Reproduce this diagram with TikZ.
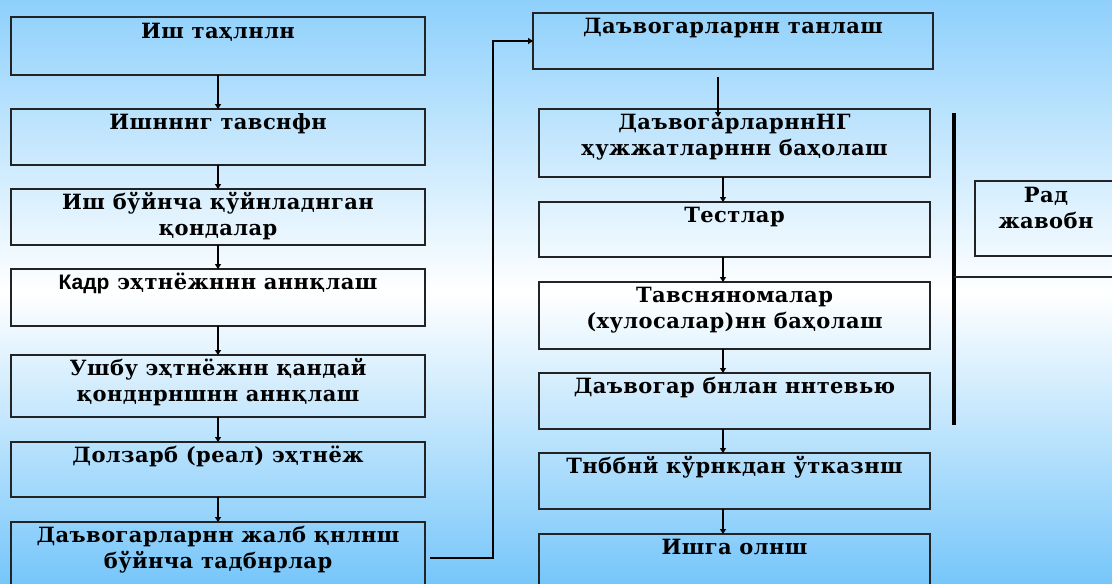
\documentclass[tikz,border=0pt]{standalone}
\usepackage{fontspec}
\setmainfont{DejaVu Serif}
\newfontfamily\sansf{Liberation Sans}
\usetikzlibrary{arrows.meta}
\definecolor{bgtop}{RGB}{142,208,252}
\definecolor{bgbot}{RGB}{118,198,250}
\definecolor{edge}{RGB}{35,35,35}
\newcommand{\st}{\rule{0pt}{20pt}}
\begin{document}
\begin{tikzpicture}[x=1pt,y=-1pt,
  box/.style={draw=edge, line width=1.6pt, inner sep=0pt, outer sep=0pt, anchor=north west},
  lbl/.style={font=\fontsize{21}{26}\selectfont\bfseries\addfontfeature{LetterSpace=2}, align=center, anchor=north, inner sep=0pt},
  arr/.style={draw=black, line width=1.3pt, -{Triangle[length=5pt,width=6pt]}},
  thick bar/.style={draw=black, line width=3.5pt},
  thin bar/.style={draw=edge, line width=1.3pt}]
\useasboundingbox (0,0) rectangle (1112,584);
\clip (0,0) rectangle (1112,584);
\shade[top color=bgtop, bottom color=bgbot, middle color=white] (0,0) rectangle (1112,584);
% left column
\node[box, minimum width=414pt, minimum height=58pt] (b1) at (11,17) {};
\node[box, minimum width=414pt, minimum height=56pt] (b2) at (11,109) {};
\node[box, minimum width=414pt, minimum height=56pt] (b3) at (11,189) {};
\node[box, minimum width=414pt, minimum height=57pt] (b4) at (11,269) {};
\node[box, minimum width=414pt, minimum height=62pt] (b5) at (11,355) {};
\node[box, minimum width=414pt, minimum height=55pt] (b6) at (11,442) {};
\node[box, minimum width=414pt, minimum height=72pt] (b7) at (11,522) {};
\node[lbl, yshift=-1pt] (t1) at (b1.north) {\st Иш таҳлнлн};
\node[lbl] (t2) at (b2.north) {\st Ишнннг тавснфн};
\node[lbl] (t3) at (b3.north) {\st Иш бўйнча қўйнладнган\\қондалар};
\node[lbl] (t4) at (b4.north) {\st{\sansf Кадр} эҳтнёжннн аннқлаш};
\node[lbl] (t5) at (b5.north) {\st Ушбу эҳтнёжнн қандай\\қонднрншнн аннқлаш};
\node[lbl] (t6) at (b6.north) {\st Долзарб (реал) эҳтнёж};
\node[lbl] (t7) at (b7.north) {\st Даъвогарларнн жалб қнлнш\\бўйнча тадбнрлар};
\draw[arr] (b1.south) -- (b2.north);
\draw[arr] (b2.south) -- (b3.north);
\draw[arr] (b3.south) -- (b4.north);
\draw[arr] (b4.south) -- (b5.north);
\draw[arr] (b5.south) -- (b6.north);
\draw[arr] (b6.south) -- (b7.north);
% right column
\node[box, minimum width=400pt, minimum height=56pt] (r1) at (533,13) {};
\node[box, minimum width=391pt, minimum height=68pt] (r2) at (539,109) {};
\node[box, minimum width=391pt, minimum height=55pt] (r3) at (539,202) {};
\node[box, minimum width=391pt, minimum height=67pt] (r4) at (539,282) {};
\node[box, minimum width=391pt, minimum height=56pt] (r5) at (539,373) {};
\node[box, minimum width=391pt, minimum height=56pt] (r6) at (539,453) {};
\node[box, minimum width=391pt, minimum height=66pt] (r7) at (539,534) {};
\node[lbl] (s1) at (r1.north) {\st Даъвогарларнн танлаш};
\node[lbl] (s2) at (r2.north) {\st ДаъвогарларннНГ\\ҳужжатларннн баҳолаш};
\node[lbl] (s3) at (r3.north) {\st Тестлар};
\node[lbl] (s4) at (r4.north) {\st Тавсняномалар\\(хулосалар)нн баҳолаш};
\node[lbl] (s5) at (r5.north) {\st Даъвогар бнлан ннтевью};
\node[lbl] (s6) at (r6.north) {\st Тнббнй кўрнкдан ўтказнш};
\node[lbl] (s7) at (r7.north) {\st Ишга олнш};
\draw[arr] ([xshift=-15pt,yshift=-8pt]r1.south) -- ([xshift=-15pt,yshift=-8pt]r1.south |- r2.north);
\draw[arr] ([xshift=-11.5pt]r2.south) -- ([xshift=-11.5pt]r3.north);
\draw[arr] ([xshift=-11.5pt]r3.south) -- ([xshift=-11.5pt]r4.north);
\draw[arr] ([xshift=-11.5pt]r4.south) -- ([xshift=-11.5pt]r5.north);
\draw[arr] ([xshift=-11.5pt]r5.south) -- ([xshift=-11.5pt]r6.north);
\draw[arr] ([xshift=-11.5pt]r6.south) -- ([xshift=-11.5pt]r7.north);
% link from left column to right column
\coordinate (turn) at (493,41);
\draw[arr] ([xshift=5pt]b7.east) -| (turn) -- (r1.west);
% rejection side
\node[box, minimum width=142pt, minimum height=75pt] (rad) at (975,181) {};
\node[lbl, yshift=-1pt] (radt) at (rad.north) {\st Рад\\жавобн};
\coordinate (vtop) at (954,113);
\coordinate (vbot) at (954,425);
\coordinate (hmid) at (954,277);
\coordinate (hend) at (1112,277);
\draw[thick bar] (vtop) -- (vbot);
\draw[thin bar] (hmid) -- (hend);
\end{tikzpicture}
\end{document}
